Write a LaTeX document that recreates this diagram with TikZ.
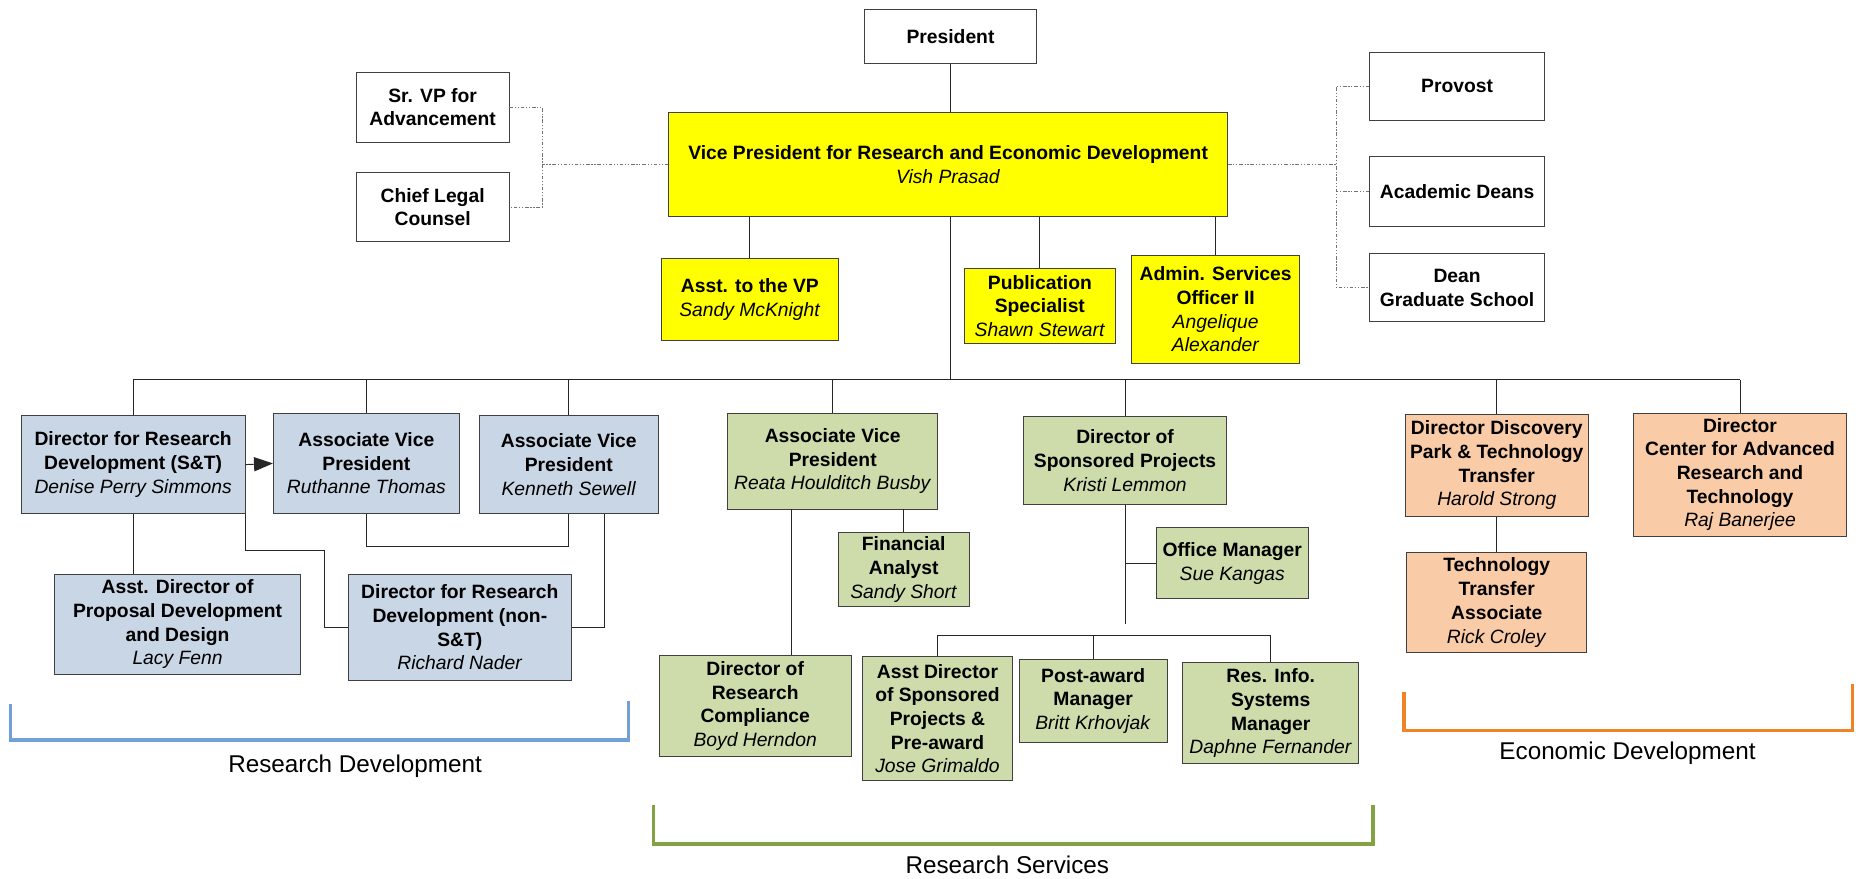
\documentclass[tikz,border=0pt]{standalone}
\usepackage{fontspec}
\setmainfont{Liberation Sans}
\usetikzlibrary{arrows.meta}
\definecolor{ylw}{RGB}{255,255,0}
\definecolor{bluebox}{RGB}{201,214,229}
\definecolor{greenbox}{RGB}{205,220,170}
\definecolor{orangebox}{RGB}{249,203,167}
\definecolor{bluebr}{RGB}{114,159,214}
\definecolor{greenbr}{RGB}{130,162,68}
\definecolor{orangebr}{RGB}{240,130,40}
\tikzset{
  x=1pt, y=-1pt,
  box/.style={draw=black!75, line width=0.8pt, inner sep=0pt, align=center,
    font=\fontsize{16.3}{20}\selectfont},
  wbox/.style={box, fill=white},
  ybox/.style={box, fill=ylw},
  bbox/.style={box, fill=bluebox},
  gbox/.style={box, fill=greenbox},
  obox/.style={box, fill=orangebox},
  conn/.style={draw=black!85, line width=0.8pt},
  dd/.style={draw=black!55, line width=0.8pt, dash pattern=on 3pt off 1.5pt on 1pt off 1.5pt on 1pt off 1.5pt},
  brk/.style={line width=3pt},
  grp/.style={font=\fontsize{20.5}{24}\selectfont, inner sep=0pt}
}
\begin{document}
\begin{tikzpicture}
\useasboundingbox (0,0) rectangle (1568,742);
% top level
\node[wbox, minimum width=146pt, minimum height=46pt] (pres) at (803,31) {\textbf{President}};
\node[ybox, minimum width=472pt, minimum height=88pt] (vp) at (801,139) {\textbf{Vice President for Research and Economic Development}\\\textit{Vish Prasad}};
\node[wbox, minimum width=129pt, minimum height=59pt] (srvp) at (365.5,90.5) {\textbf{Sr. VP for}\\\textbf{Advancement}};
\node[wbox, minimum width=129pt, minimum height=58pt] (chief) at (365.5,175) {\textbf{Chief Legal}\\\textbf{Counsel}};
\node[wbox, minimum width=148pt, minimum height=58pt] (prov) at (1231,73) {\textbf{Provost}};
\node[wbox, minimum width=148pt, minimum height=59pt] (acad) at (1231,161.5) {\textbf{Academic Deans}};
\node[wbox, minimum width=148pt, minimum height=58pt] (dean) at (1231,243) {\textbf{Dean}\\\textbf{Graduate School}};
% VP staff
\node[ybox, minimum width=149pt, minimum height=70pt] (asst) at (633.5,253) {\textbf{Asst. to the VP}\\\textit{Sandy McKnight}};
\node[ybox, minimum width=127pt, minimum height=63pt] (pub) at (878.5,258.5) {\textbf{Publication}\\\textbf{Specialist}\\\textit{Shawn Stewart}};
\node[ybox, minimum width=142pt, minimum height=91pt] (admin) at (1027,261.5) {\textbf{Admin. Services}\\\textbf{Officer II}\\\textit{Angelique}\\\textit{Alexander}};
% research development (blue)
\node[bbox, minimum width=189pt, minimum height=83pt] (dirst) at (112.5,392.5) {\textbf{Director for Research}\\\textbf{Development (S\&T)}\\\textit{Denise Perry Simmons}};
\node[bbox, minimum width=157pt, minimum height=85pt] (ruth) at (309.5,391.5) {\textbf{Associate Vice}\\\textbf{President}\\\textit{Ruthanne Thomas}};
\node[bbox, minimum width=151pt, minimum height=83pt] (ken) at (480.5,392.5) {\textbf{Associate Vice}\\\textbf{President}\\\textit{Kenneth Sewell}};
\node[bbox, minimum width=208pt, minimum height=85pt] (asstdir) at (150,527.5) {\textbf{Asst. Director of}\\\textbf{Proposal Development}\\\textbf{and Design}\\\textit{Lacy Fenn}};
\node[bbox, minimum width=189pt, minimum height=90pt] (dirnon) at (388.5,530) {\textbf{Director for Research}\\\textbf{Development (non-}\\\textbf{S\&T)}\\\textit{Richard Nader}};
% research services (green)
\node[gbox, minimum width=177pt, minimum height=81pt] (reata) at (703.5,389.5) {\textbf{Associate Vice}\\\textbf{President}\\\textit{Reata Houlditch Busby}};
\node[gbox, minimum width=111pt, minimum height=62pt] (finan) at (763.5,481) {\textbf{Financial}\\\textbf{Analyst}\\\textit{Sandy Short}};
\node[gbox, minimum width=162pt, minimum height=85pt] (compl) at (638,596.5) {\textbf{Director of}\\\textbf{Research}\\\textbf{Compliance}\\\textit{Boyd Herndon}};
\node[gbox, minimum width=171pt, minimum height=74pt] (sponp) at (950.5,389) {\textbf{Director of}\\\textbf{Sponsored Projects}\\\textit{Kristi Lemmon}};
\node[gbox, minimum width=128pt, minimum height=60pt] (office) at (1041,476) {\textbf{Office Manager}\\\textit{Sue Kangas}};
\node[gbox, minimum width=126pt, minimum height=104pt] (jose) at (792,607) {\textbf{Asst Director}\\\textbf{of Sponsored}\\\textbf{Projects \&}\\\textbf{Pre-award}\\\textit{Jose Grimaldo}};
\node[gbox, minimum width=125pt, minimum height=70pt] (post) at (923.5,592) {\textbf{Post-award}\\\textbf{Manager}\\\textit{Britt Krhovjak}};
\node[gbox, minimum width=149pt, minimum height=85pt] (resinfo) at (1073.5,602.5) {\textbf{Res. Info.}\\\textbf{Systems}\\\textbf{Manager}\\\textit{Daphne Fernander}};
% economic development (orange)
\node[obox, minimum width=155pt, minimum height=86pt] (disc) at (1264.5,393) {\textbf{Director Discovery}\\\textbf{Park \& Technology}\\\textbf{Transfer}\\\textit{Harold Strong}};
\node[obox, minimum width=152pt, minimum height=84pt] (tta) at (1264.5,509) {\textbf{Technology}\\\textbf{Transfer}\\\textbf{Associate}\\\textit{Rick Croley}};
\node[obox, minimum width=180pt, minimum height=104pt] (center) at (1470,401) {\textbf{Director}\\\textbf{Center for Advanced}\\\textbf{Research and}\\\textbf{Technology}\\\textit{Raj Banerjee}};
% helper coordinates
\coordinate (lj) at (458,139);
\coordinate (rj) at (1129,139);
\coordinate (bus) at (803,321);
\coordinate (k1) at (274,465);
\coordinate (k2) at (0,462);
\coordinate (k3) at (511,0);
\coordinate (k4) at (669,0);
\coordinate (k5) at (951,527);
\coordinate (k6) at (0,537);
% connectors top
\draw[conn] (pres.south) -- (pres.south |- vp.north);
\draw[dd] (srvp.east) -| (lj) |- (chief.east);
\draw[dd] (vp.west) -- (lj);
\draw[dd] (vp.east) -- (rj);
\draw[dd] (prov.west) -| (rj |- dean.west) -- (dean.west);
\draw[dd] (acad.west) -- (acad.west -| rj);
\draw[conn] (asst.north) -- (asst.north |- vp.south);
\draw[conn] (pub.north) -- (pub.north |- vp.south);
\draw[conn] (admin.north) -- (admin.north |- vp.south);
% main bus
\draw[conn] (bus |- vp.south) -- (bus);
\draw[conn] (dirst.north |- bus) -- (center.north |- bus);
\foreach \n in {dirst,ruth,ken,reata,sponp,disc,center}
  \draw[conn] (\n.north) -- (\n.north |- bus);
% blue group
\draw[conn, -{Triangle[length=16pt,width=12pt]}] (dirst.east) -- (ruth.west);
\draw[conn] (dirst.south) -- (dirst.south |- asstdir.north);
\draw[conn] (dirst.south east) |- (k1) |- (dirnon.west);
\draw[conn] (ruth.south) -- (ruth.south |- k2) -| (ken.south);
\draw[conn] (dirnon.east) -| (k3 |- ken.south);
% green group
\draw[conn] (finan.north) -- (finan.north |- reata.south);
\draw[conn] (reata.south -| k4) -- (compl.north -| k4);
\draw[conn] (sponp.south) -- (sponp.south |- k5);
\draw[conn] (office.west) -- (office.west -| sponp.south);
\draw[conn] (jose.north |- k6) -- (resinfo.north |- k6);
\draw[conn] (jose.north) -- (jose.north |- k6);
\draw[conn] (post.north) -- (post.north |- k6);
\draw[conn] (resinfo.north) -- (resinfo.north |- k6);
% orange group
\draw[conn] (disc.south) -- (disc.south |- tta.north);
% group brackets
\draw[brk, bluebr] (9,595) -- (9,625) -- (531,625) -- (531,592);
\draw[brk, greenbr] (552,680) -- (552,713) -- (1160,713) -- (1160,680);
\draw[brk, orangebr] (1186,585) -- (1186,617) -- (1565,617) -- (1565,578);
\node[grp] (lrd) at (300,647) {Research Development};
\node[grp] (lrs) at (851,731) {Research Services};
\node[grp] (led) at (1375,636) {Economic Development};
\end{tikzpicture}
\end{document}
